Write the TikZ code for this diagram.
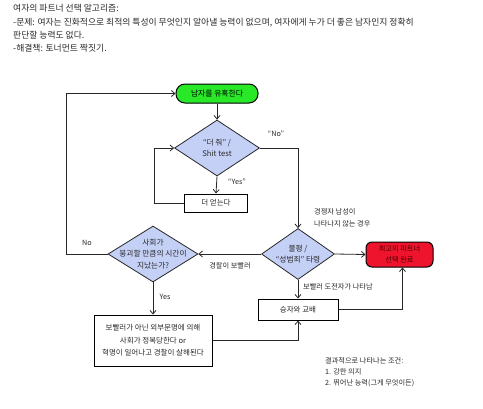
\documentclass[tikz,border=0pt]{standalone}
\usepackage{fontspec}
\setmainfont{Noto Sans CJK KR}
\usetikzlibrary{shapes.geometric,arrows.meta}
\definecolor{startgreen}{RGB}{40,232,40}
\definecolor{diablue}{RGB}{197,208,246}
\definecolor{endred}{RGB}{238,20,45}
\definecolor{ink}{RGB}{40,40,40}
\tikzset{
  dia/.style={diamond, draw=ink, line width=0.8pt, fill=diablue, inner sep=0pt},
  dtext/.style={align=center, font=\fontsize{7.7}{11.5}\selectfont, text=ink},
  boxn/.style={rectangle, draw=black, line width=1pt, fill=white, inner sep=0pt, align=center, font=\fontsize{7.5}{12.5}\selectfont, text=ink},
  startn/.style={rectangle, rounded corners=9pt, draw=black, line width=1pt, fill=startgreen, minimum width=82pt, minimum height=19pt, inner sep=0pt, font=\fontsize{7.8}{9}\selectfont},
  endn/.style={rectangle, rounded corners=6pt, draw=black, line width=1pt, fill=endred, minimum width=67pt, minimum height=25pt, inner sep=0pt, align=center, font=\fontsize{7.2}{11}\selectfont, text=black!70!red},
  conn/.style={draw=ink, line width=0.8pt, -{Straight Barb[length=3.5pt,width=6pt]}},
  lab/.style={font=\fontsize{7.2}{12}\selectfont, text=ink, inner sep=0pt}
}
\begin{document}
\begin{tikzpicture}[x=1pt,y=-1pt]
\useasboundingbox (0,0) rectangle (483,408);
% header
\node[anchor=north west, align=left, inner sep=0pt, text=ink, font=\fontsize{8.8}{13.2}\selectfont] (hdr) at (13,4.5)
 {여자의 파트너 선택 알고리즘:\\-문제: 여자는 진화적으로 최적의 특성이 무엇인지 알아낼 능력이 없으며, 여자에게 누가 더 좋은 남자인지 정확히\\판단할 능력도 없다.\\-해결책: 토너먼트 짝짓기.};
% nodes
\node[startn] (start) at (217,93.5) {남자를 유혹한다};
\node[dia, minimum width=85pt, minimum height=56pt] (d1) at (217,148) {};
\node[dtext] (d1t) at (d1) {“더 줘” /\\Shit test};
\node[boxn, minimum width=63pt, minimum height=18pt] (b1) at (216,203) {더 얻는다};
\node[dia, minimum width=73pt, minimum height=51pt] (d2) at (298,254) {};
\node[dtext] (d2t) at (d2) {불평 /\\“성범죄” 타령};
\node[dia, minimum width=90pt, minimum height=56pt] (d3) at (153,254) {};
\node[dtext] (d3t) at (d3) {사회가\\붕괴할 만큼의 시간이\\지났는가?};
\node[endn] (red) at (399.5,254.5) {최고의 파트너\\선택 완료};
\node[boxn, minimum width=80pt, minimum height=21pt] (b2) at (298,309.5) {승자와 교배};
\node[boxn, minimum width=118pt, minimum height=51pt] (b3) at (153,340.5) {보빨러가 아닌 외부문명에 의해\\사회가 정복당한다 or\\혁명이 일어나고 경찰이 살해된다};
% connectors
\draw[conn] (start.south) -- (d1.north);
\draw[conn] (d1.south) -- (b1.north);
\draw[conn] (b1.west) -- (154,203) |- (d1.west);
\draw[conn] (d1.east) -| (d2.north);
\draw[conn] (d2.west) -- (d3.east);
\draw[conn] (d3.west) -- (66,254) |- (start.west);
\draw[conn] (d2.east) -- (red.west);
\draw[conn] (d2.south) -- (b2.north);
\draw[conn] (b2.east) -| ([xshift=3pt]red.south);
\draw[conn] (d3.south) -- (b3.north);
\draw[conn] (b3.east) -| (b2.south);
% labels
\node[lab] (lno1) at (276,134) {“No”};
\node[lab] (lyes1) at (237,182) {“Yes”};
\node[lab, anchor=north west, align=left] (lcomp) at (314,208.5) {경쟁자 남성이\\나타나지 않는 경우};
\node[lab] (lpol) at (230,266) {경찰이 보빨러};
\node[lab] (lno2) at (87,243) {No};
\node[lab] (lyes2) at (165,297) {Yes};
\node[lab, anchor=west] (lchal) at (303,287) {보빨러 도전자가 나타남};
\node[lab, anchor=north west, align=left, font=\fontsize{7.2}{11.2}\selectfont] (lres) at (325,357) {결과적으로 나타나는 조건:\\1. 강한 의지\\2. 뛰어난 능력(그게 무엇이든)};
\end{tikzpicture}
\end{document}
